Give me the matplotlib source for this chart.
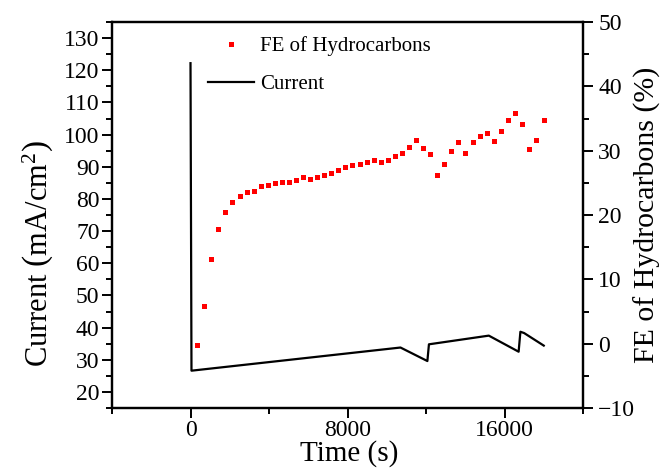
import matplotlib
matplotlib.use("Agg")
import matplotlib.pyplot as plt
from matplotlib.ticker import MultipleLocator

plt.rcParams['font.family'] = ['Liberation Serif', 'DejaVu Serif']
plt.rcParams['mathtext.fontset'] = 'custom'
plt.rcParams['mathtext.rm'] = 'Liberation Serif'
plt.rcParams['mathtext.it'] = 'Liberation Serif:italic'

# Current (mA/cm2) vs time (s) - breakpoints
cur_time = [0, 50, 10700, 12070, 12150, 15200, 16720, 16810, 17000, 18000]
cur_vals = [122.2, 26.6, 33.8, 29.6, 34.8, 37.5, 32.5, 38.7, 38.3, 34.4]

# FE of hydrocarbons (%)
fe_time = [335, 676, 1046, 1422, 1778, 2133, 2504, 2875, 3230, 3571, 3926, 4297,
           4652, 5008, 5384, 5755, 6095, 6466, 6821, 7177, 7532, 7888, 8243, 8614,
           8970, 9345, 9716, 10072, 10427, 10782, 11153, 11509, 11865, 12220, 12576,
           12931, 13287, 13642, 13998, 14389, 14729, 15100, 15455, 15811, 16182,
           16537, 16913, 17248, 17604, 17995]
fe_vals = [-0.2, 5.8, 13.2, 17.9, 20.5, 22.0, 23.0, 23.5, 23.8, 24.5, 24.6, 24.9,
           25.1, 25.1, 25.5, 25.9, 25.6, 25.9, 26.2, 26.6, 27.0, 27.4, 27.8, 28.0,
           28.2, 28.6, 28.2, 28.5, 29.1, 29.6, 30.5, 31.6, 30.4, 29.5, 26.2,
           27.9, 30.0, 31.3, 29.7, 31.3, 32.3, 32.8, 31.5, 33.1, 34.7,
           35.9, 34.2, 30.2, 31.6, 34.7]

x_ticks = [0, 8000, 16000]
left_ticks = [20, 30, 40, 50, 60, 70, 80, 90, 100, 110, 120, 130]
right_ticks = [-10, 0, 10, 20, 30, 40, 50]

fig = plt.figure(figsize=(6.68, 4.74), dpi=100)
ax = fig.add_axes([112/668, 1-408/474, (583-112)/668, (408-22)/474])
ax2 = ax.twinx()

l1, = ax.plot(cur_time, cur_vals, color='black', lw=1.6)
p1, = ax2.plot(fe_time, fe_vals, linestyle='none', marker='s', markersize=3.6,
               color='#ff0000', markeredgewidth=0)

ax.set_xlim(-4000, 20000)
ax.set_ylim(15, 135)
ax2.set_ylim(-10, 50)

ax.set_xticks(x_ticks)
ax.xaxis.set_minor_locator(MultipleLocator(4000))
ax.set_yticks(left_ticks)
ax.yaxis.set_minor_locator(MultipleLocator(5))
ax2.set_yticks(right_ticks)
ax2.yaxis.set_minor_locator(MultipleLocator(5))

for a in (ax, ax2):
    for s in a.spines.values():
        s.set_linewidth(1.6)
ax.tick_params(axis='both', which='major', direction='out', length=7, width=1.4,
               labelsize=17, top=False, right=False, pad=2)
ax.tick_params(axis='both', which='minor', direction='out', length=4, width=1.4,
               top=False, right=False)
ax2.tick_params(axis='y', which='major', direction='out', length=7, width=1.4,
                labelsize=17, pad=4)
ax2.tick_params(axis='y', which='minor', direction='out', length=4, width=1.4)

ax.set_xlabel('Time (s)', fontsize=21)
ax.xaxis.set_label_coords(0.504, -0.083)
ax.set_ylabel(r'Current $\left(\mathrm{mA/cm}^{2}_{\ }\right)$', fontsize=22)
ax.yaxis.set_label_coords(-0.118, 0.40)
ax2.set_ylabel('FE of Hydrocarbons (%)', fontsize=21.5)
ax2.yaxis.set_label_coords(1.108, 0.5)

ax2.legend([p1, l1], ['FE of Hydrocarbons', 'Current'], loc='upper left',
           bbox_to_anchor=(208/668, 1-36/474), bbox_transform=fig.transFigure,
           frameon=False, fontsize=15, handlelength=2.2, handletextpad=0.3,
           labelspacing=0.9, borderpad=0, borderaxespad=0, markerscale=1.0)

fig.savefig('out.png', dpi=100)
